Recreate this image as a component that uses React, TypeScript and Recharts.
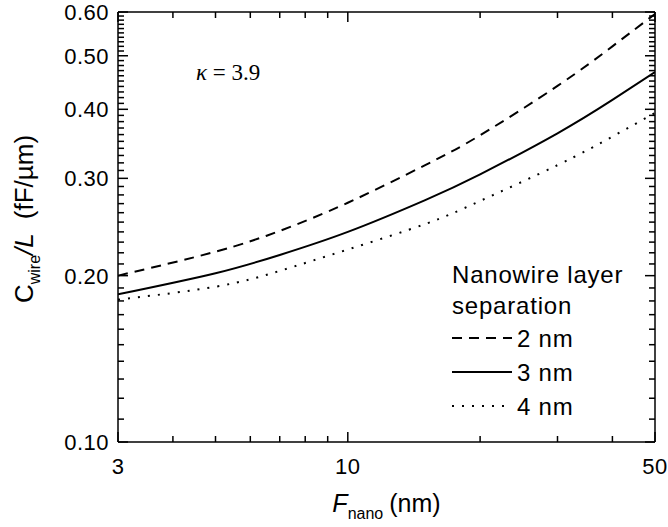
import React from 'react';
import { LineChart, Line, XAxis, YAxis, Label } from 'recharts';

// feature size F_nano (nm)
const fNano = [3, 5, 7, 10, 15, 20, 30, 40, 50];
// C_wire / L (fF/um) per nanowire layer separation
const sep2nm = [0.2, 0.221, 0.241, 0.271, 0.317, 0.359, 0.441, 0.52, 0.595];
const sep3nm = [0.185, 0.202, 0.218, 0.24, 0.274, 0.305, 0.362, 0.416, 0.467];
const sep4nm = [0.181, 0.191, 0.204, 0.223, 0.248, 0.273, 0.317, 0.357, 0.394];

const xTicks = [3, 4, 5, 6, 7, 8, 9, 10, 20, 30, 40, 50];
const xLabels = [3, 10, 50];
const yTicks = [
  0.1, 0.11, 0.12, 0.13, 0.14, 0.15, 0.16, 0.17, 0.18, 0.19,
  0.2, 0.21, 0.22, 0.23, 0.24, 0.25, 0.26, 0.27, 0.28, 0.29,
  0.3, 0.31, 0.32, 0.33, 0.34, 0.35, 0.36, 0.37, 0.38, 0.39,
  0.4, 0.41, 0.42, 0.43, 0.44, 0.45, 0.46, 0.47, 0.48, 0.49,
  0.5, 0.51, 0.52, 0.53, 0.54, 0.55, 0.56, 0.57, 0.58, 0.59, 0.6,
];
const yLabels = [0.1, 0.2, 0.3, 0.4, 0.5, 0.6];

const series = [
  { key: 'sep2', name: '2 nm', values: sep2nm, dash: '10 7', width: 2, xId: 'bottom' },
  { key: 'sep3', name: '3 nm', values: sep3nm, dash: undefined, width: 2, xId: 'bottom' },
  { key: 'sep4', name: '4 nm', values: sep4nm, dash: '2 8', width: 2, xId: 'top' },
];

const data = fNano.map((f, i) => {
  const row: Record<string, number> = { f };
  series.forEach((s) => (row[s.key] = s.values[i]));
  return row;
});

const font = 'Arial, "Liberation Sans", Helvetica, sans-serif';
const MAJOR = 10;
const MINOR = 6;

const isLabel = (list: number[], v: number) => list.some((l) => Math.abs(l - v) < 1e-9);

const BottomTick = (props: any) => {
  const { x, y, payload } = props;
  const major = isLabel(xLabels, payload.value);
  return (
    <g>
      <line x1={x} x2={x} y1={y} y2={y - (major ? MAJOR : MINOR)} stroke="#000" strokeWidth={1.5} />
      {major && (
        <text x={x} y={y + 32} textAnchor="middle" fontSize={22} letterSpacing={0.5} fontFamily={font} fill="#000">
          {payload.value}
        </text>
      )}
    </g>
  );
};

const TopTick = (props: any) => {
  const { x, y, payload } = props;
  const major = isLabel(xLabels, payload.value);
  return <line x1={x} x2={x} y1={y} y2={y + (major ? MAJOR : MINOR)} stroke="#000" strokeWidth={1.5} />;
};

const LeftTick = (props: any) => {
  const { x, y, payload } = props;
  const major = isLabel(yLabels, payload.value);
  return (
    <g>
      <line x1={x} x2={x + (major ? MAJOR : MINOR)} y1={y} y2={y} stroke="#000" strokeWidth={1.5} />
      {major && (
        <text x={x - 9} y={y + 8} textAnchor="end" fontSize={22} letterSpacing={0.5} fontFamily={font} fill="#000">
          {payload.value.toFixed(2)}
        </text>
      )}
    </g>
  );
};

const RightTick = (props: any) => {
  const { x, y, payload } = props;
  const major = isLabel(yLabels, payload.value);
  return <line x1={x} x2={x - (major ? MAJOR : MINOR)} y1={y} y2={y} stroke="#000" strokeWidth={1.5} />;
};

const YTitle = () => {
  const cx = 33;
  const cy = 219;
  return (
    <text
      x={cx}
      y={cy}
      transform={`rotate(-90 ${cx} ${cy})`}
      textAnchor="middle"
      fontSize={26}
      fontFamily={font}
      fill="#000"
    >
      <tspan>C</tspan>
      <tspan fontSize={16} dy={7}>wire</tspan>
      <tspan fontStyle="italic" dy={-7}>/L</tspan>
      <tspan dx={14}>(fF/µm)</tspan>
    </text>
  );
};

const XTitle = (props: any) => {
  const { viewBox } = props;
  const cx = viewBox.x + viewBox.width / 2;
  return (
    <text x={cx} y={512} textAnchor="middle" fontSize={25} fontFamily={font} fill="#000">
      <tspan fontStyle="italic">F</tspan>
      <tspan fontSize={16} dy={7}>nano</tspan>
      <tspan dy={-7} dx={6}>(nm)</tspan>
    </text>
  );
};

const LegendBox = () => (
  <div
    style={{
      position: 'absolute',
      left: 452,
      top: 259,
      fontFamily: font,
      fontSize: 24,
      letterSpacing: 0.8,
      lineHeight: '31px',
      color: '#000',
    }}
  >
    <div>Nanowire layer</div>
    <div>separation</div>
    {series.map((s) => (
      <div key={s.key} style={{ display: 'flex', alignItems: 'center', height: 34 }}>
        <svg width={62} height={10} style={{ marginRight: 3 }}>
          <line x1={0} x2={60} y1={5} y2={5} stroke="#000" strokeWidth={s.width} strokeDasharray={s.dash} />
        </svg>
        <span>{s.name}</span>
      </div>
    ))}
  </div>
);

export default function App() {
  return (
    <div style={{ position: 'absolute', left: 0, top: 0, width: 668, height: 527 }}>
      <LineChart width={668} height={527} data={data} margin={{ top: 10, right: 12, bottom: 0, left: 0 }}>
        <XAxis
          xAxisId="bottom"
          dataKey="f"
          type="number"
          scale="log"
          domain={[3, 50]}
          allowDataOverflow
          ticks={xTicks}
          interval={0}
          tick={<BottomTick />}
          tickSize={0}
          tickMargin={0}
          tickLine={false}
          axisLine={{ stroke: '#000', strokeWidth: 1.5 }}
          height={85}
        >
          <Label content={<XTitle />} />
        </XAxis>
        <XAxis
          xAxisId="top"
          orientation="top"
          dataKey="f"
          type="number"
          scale="log"
          domain={[3, 50]}
          allowDataOverflow
          ticks={xTicks}
          interval={0}
          tick={<TopTick />}
          tickSize={0}
          tickMargin={0}
          tickLine={false}
          axisLine={{ stroke: '#000', strokeWidth: 1.5 }}
          height={2}
        />
        <YAxis
          type="number"
          scale="log"
          domain={[0.1, 0.6]}
          allowDataOverflow
          ticks={yTicks}
          interval={0}
          tick={<LeftTick />}
          tickSize={0}
          tickMargin={0}
          tickLine={false}
          axisLine={{ stroke: '#000', strokeWidth: 1.5 }}
          width={118}
        >
          <Label content={<YTitle />} />
        </YAxis>
        <YAxis
          yAxisId="right"
          orientation="right"
          type="number"
          scale="log"
          domain={[0.1, 0.6]}
          allowDataOverflow
          ticks={yTicks}
          interval={0}
          tick={<RightTick />}
          tickSize={0}
          tickMargin={0}
          tickLine={false}
          axisLine={{ stroke: '#000', strokeWidth: 1.5 }}
          width={1}
        />
        {series.map((s) => (
          <Line
            key={s.key}
            xAxisId={s.xId}
            dataKey={s.key}
            name={s.name}
            type="natural"
            stroke="#000"
            strokeWidth={s.width}
            strokeDasharray={s.dash}
            dot={false}
            activeDot={false}
            isAnimationActive={false}
          />
        ))}
      </LineChart>
      <div
        style={{
          position: 'absolute',
          left: 196,
          top: 60,
          fontFamily: '"Liberation Serif", "Times New Roman", serif',
          fontSize: 23,
          color: '#000',
        }}
      >
        <i>κ</i> = 3.9
      </div>
      <LegendBox />
    </div>
  );
}
